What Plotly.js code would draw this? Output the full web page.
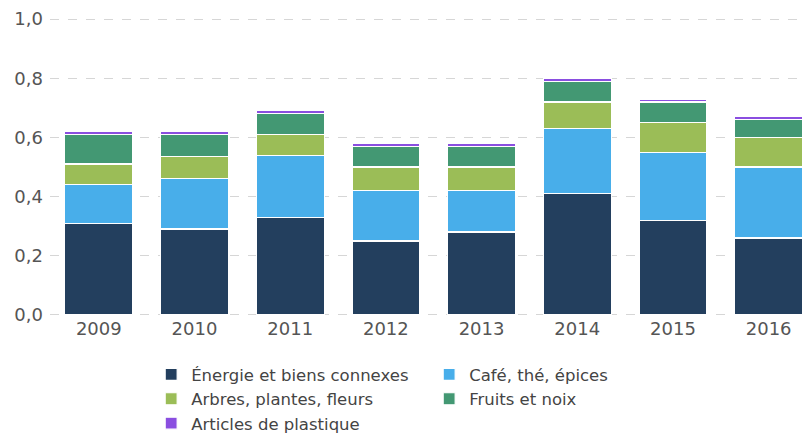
<!DOCTYPE html>
<html>
<head>
<meta charset="utf-8">
<script src="https://cdn.plot.ly/plotly-3.0.1.min.js"></script>
<style>html,body{margin:0;padding:0;background:#fff;}#chart{width:809px;height:436px;}</style>
</head>
<body>
<div id="chart"></div>
<script>
const years = ["2009","2010","2011","2012","2013","2014","2015","2016"];
const energie = [0.31,0.29,0.33,0.25,0.28,0.41,0.32,0.26];
const cafe = [0.13,0.17,0.21,0.17,0.14,0.22,0.23,0.24];
const arbres = [0.07,0.075,0.07,0.08,0.08,0.09,0.10,0.10];
const fruits = [0.10,0.075,0.07,0.07,0.07,0.07,0.07,0.06];
const plastique = [0.01,0.01,0.01,0.01,0.01,0.01,0.01,0.01];
const seriesNames = ["Énergie et biens connexes","Café, thé, épices","Arbres, plantes, fleurs","Fruits et noix","Articles de plastique"];
const yTicks = [0,0.2,0.4,0.6,0.8,1.0];

const colors = ["#233f5e","#48aeea","#9bbd57","#439873","#8a4ee0"];
const data = [energie,cafe,arbres,fruits,plastique].map((v,i)=>({
  type:"bar", x:years, y:v, name:seriesNames[i],
  marker:{color:colors[i], line:{color:"#ffffff", width:1.2}},
  hoverinfo:"skip"
}));

const layout = {
  width:809, height:436,
  margin:{l:50, r:4, t:18, b:120},
  barmode:"stack", bargap:0.29,
  paper_bgcolor:"#fff", plot_bgcolor:"#fff",
  font:{family:"DejaVu Sans, sans-serif", color:"#555", size:18},
  separators:",.",
  xaxis:{type:"category", range:[-0.51,7.38], showgrid:false, zeroline:false, showline:false,
         ticks:"", tickfont:{size:18,color:"#555"}},
  yaxis:{range:[-0.004,1.004], tickvals:yTicks, tickformat:".1f", showgrid:true, gridcolor:"#d6d6d6",
         griddash:"dash", gridwidth:1, zeroline:false, showline:false, ticks:"",
         tickfont:{size:18,color:"#555"}, ticklabelstandoff:6},
  showlegend:true,
  legend:{orientation:"h", xref:"paper", x:0.134, xanchor:"left",
          yref:"container", y:0.181, yanchor:"top",
          entrywidth:233, entrywidthmode:"pixels", traceorder:"normal",
          font:{size:16.5,color:"#444"}, itemclick:false}
};
Plotly.newPlot("chart", data, layout, {displayModeBar:false, staticPlot:true});
</script>
</body>
</html>
